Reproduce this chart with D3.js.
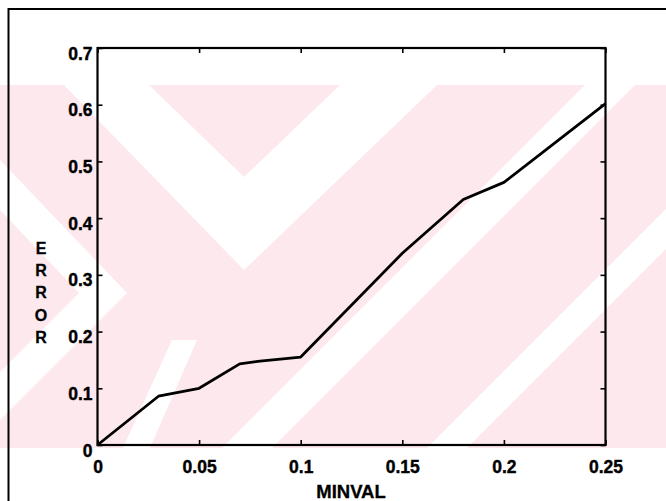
<!DOCTYPE html>
<html>
<head>
<meta charset="utf-8">
<script src="https://cdn.jsdelivr.net/npm/d3@7"></script>
<style>
  html, body { margin: 0; padding: 0; background: #fff; }
  svg { display: block; }
  text { font-family: "Liberation Sans", Arial, Helvetica, sans-serif; font-weight: bold; fill: #000; }
</style>
</head>
<body>
<svg id="chart" width="666" height="501"></svg>
<script>
// ---- data ----
const minval = [0, 0.03, 0.05, 0.07, 0.08, 0.10, 0.15, 0.18, 0.20, 0.25];
const errorVals = [0, 0.086, 0.100, 0.143, 0.148, 0.155, 0.338, 0.433, 0.463, 0.602];
const xTicks = [0, 0.05, 0.10, 0.15, 0.20, 0.25];
const xTickLabels = ["0", "0.05", "0.1", "0.15", "0.2", "0.25"];
const yTicks = [0, 0.1, 0.2, 0.3, 0.4, 0.5, 0.6, 0.7];
const yTickLabels = ["0", "0.1", "0.2", "0.3", "0.4", "0.5", "0.6", "0.7"];
const xTitle = "MINVAL";
const yTitle = "ERROR";

// ---- background watermark (decorative) ----
const bandTop = 85, bandBottom = 448;
const whiteShapes = [
  [[64,85],[149,85],[244,177],[340,85],[437,85],[244,270]],
  [[585,85],[635,85],[272,448],[222,448]],
  [[790,85],[830,85],[467,448],[427,448]],
  [[123,448],[150,448],[197,340],[172,340]],
  [[0,160],[127,293],[0,420],[0,372],[79,293],[0,210]]
];

const svg = d3.select("#chart");
svg.append("rect").attr("width", 666).attr("height", 501).attr("fill", "#fff");

const wm = svg.append("g");
wm.append("clipPath").attr("id", "band")
  .append("rect").attr("x", 0).attr("y", bandTop).attr("width", 666).attr("height", bandBottom - bandTop);
const wg = wm.append("g").attr("clip-path", "url(#band)");
wg.append("rect").attr("x", 0).attr("y", bandTop).attr("width", 666).attr("height", bandBottom - bandTop).attr("fill", "#fde9ed");
wg.selectAll("polygon").data(whiteShapes).join("polygon")
  .attr("points", d => d.map(p => p.join(",")).join(" "))
  .attr("fill", "#fff");

// outer frame
svg.append("rect").attr("x", 8.5).attr("y", 9).attr("width", 700).attr("height", 600)
  .attr("fill", "none").attr("stroke", "#000").attr("stroke-width", 2);

// ---- scales ----
const L = 97.5, R = 605.5, T = 48, B = 445;
const x = d3.scaleLinear().domain([0, 0.25]).range([L, R]);
const y = d3.scaleLinear().domain([0, 0.7]).range([B, T]);

// axes (ticks inward)
const tickLen = 5;
const axB = svg.append("g").attr("transform", `translate(0,${B})`)
  .call(d3.axisBottom(x).tickValues(xTicks).tickSizeInner(-tickLen).tickSizeOuter(0).tickFormat((d, i) => xTickLabels[i]));
const axT = svg.append("g").attr("transform", `translate(0,${T})`)
  .call(d3.axisTop(x).tickValues(xTicks).tickSizeInner(-tickLen).tickSizeOuter(0).tickFormat(""));
const axL = svg.append("g").attr("transform", `translate(${L},0)`)
  .call(d3.axisLeft(y).tickValues(yTicks).tickSizeInner(-tickLen).tickSizeOuter(0).tickFormat((d, i) => yTickLabels[i]));
const axR = svg.append("g").attr("transform", `translate(${R},0)`)
  .call(d3.axisRight(y).tickValues(yTicks).tickSizeInner(-tickLen).tickSizeOuter(0).tickFormat(""));

[axB, axT, axL, axR].forEach(a => {
  a.select(".domain").remove();
  a.selectAll(".tick line").attr("stroke", "#000").attr("stroke-width", 1.6);
  a.selectAll("text").attr("font-size", 17.5).attr("font-family", "Liberation Sans, Arial, sans-serif")
    .attr("font-weight", "bold").attr("fill", "#000").attr("stroke", "#000").attr("stroke-width", 0.4);
});
axB.selectAll("text").attr("y", 27.5).attr("dy", 0);
axL.selectAll("text").attr("x", -5).attr("dy", 0).attr("y", 11);

// plot box
svg.append("rect").attr("x", L).attr("y", T).attr("width", R - L).attr("height", B - T)
  .attr("fill", "none").attr("stroke", "#000").attr("stroke-width", 2.2);

// line
const line = d3.line().x((d, i) => x(minval[i])).y(d => y(d));
svg.append("path").datum(errorVals).attr("d", line)
  .attr("fill", "none").attr("stroke", "#000").attr("stroke-width", 2.8).attr("stroke-linejoin", "round");

// titles
svg.append("text").attr("x", (L + R) / 2 - 0.5).attr("y", 498).attr("text-anchor", "middle")
  .attr("font-size", 18.5).attr("stroke", "#000").attr("stroke-width", 0.3).text(xTitle);
svg.append("g").selectAll("text").data(yTitle.split("")).join("text")
  .attr("x", 41).attr("y", (d, i) => 254 + i * 22.2).attr("text-anchor", "middle")
  .attr("font-size", 16).attr("stroke", "#000").attr("stroke-width", 0.3).text(d => d);
</script>
</body>
</html>
